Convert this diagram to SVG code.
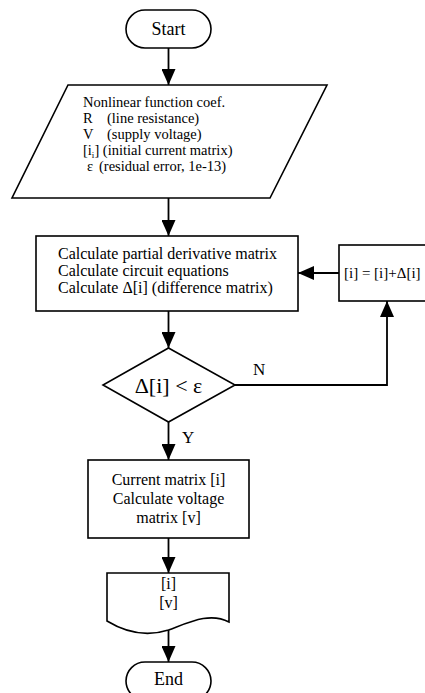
<svg xmlns="http://www.w3.org/2000/svg" width="425" height="693" viewBox="0 0 425 693">
<style>
.s{fill:#fff;stroke:#000;stroke-width:1.6}
.c{fill:none;stroke:#000;stroke-width:1.8}
text{font-family:"Liberation Serif","Times New Roman",serif;fill:#000}
.t{font-size:14.5px}
.u{font-size:16px}
.m{text-anchor:middle}
</style>
<defs>
<marker id="ah" viewBox="0 0 16 14" refX="16" refY="7" markerWidth="16" markerHeight="14" markerUnits="userSpaceOnUse" orient="auto">
<path d="M0,0 L16,7 L0,14 z" fill="#000"/>
</marker>
</defs>
<rect width="425" height="693" fill="#fff"/>
<g id="connectors">
<line class="c" x1="168.5" y1="48" x2="168.5" y2="85" marker-end="url(#ah)"/>
<line class="c" x1="168.5" y1="198" x2="168.5" y2="236" marker-end="url(#ah)"/>
<line class="c" x1="168.5" y1="311" x2="168.5" y2="348" marker-end="url(#ah)"/>
<polyline class="c" points="235,385 387,385 387,301" marker-end="url(#ah)"/>
<line class="c" x1="339" y1="273" x2="298" y2="273" marker-end="url(#ah)"/>
<line class="c" x1="168.5" y1="422" x2="168.5" y2="460" marker-end="url(#ah)"/>
<line class="c" x1="168.5" y1="538" x2="168.5" y2="573" marker-end="url(#ah)"/>
<line class="c" x1="168.5" y1="630" x2="168.5" y2="662" marker-end="url(#ah)"/>
<text x="253" y="375" style="font-size:17px">N</text>
<text x="182" y="443" style="font-size:17px">Y</text>
</g>
<g id="start">
<rect class="s" x="126" y="10" width="85" height="38" rx="19" ry="19"/>
<text class="m" x="168.5" y="35" style="font-size:18px">Start</text>
</g>
<g id="input">
<polygon class="s" points="68,85 327,85 270,198 12,198"/>
<text class="t" x="83" y="107">Nonlinear function coef.</text>
<text class="t" y="123"><tspan x="83">R</tspan><tspan x="107">(line resistance)</tspan></text>
<text class="t" y="139"><tspan x="83">V</tspan><tspan x="107">(supply voltage)</tspan></text>
<text class="t" x="83" y="155">[i<tspan style="font-size:9px" dy="3">i</tspan><tspan dy="-3">] (initial current matrix)</tspan></text>
<text class="t" y="171"><tspan x="87">ε</tspan><tspan x="99">(residual error, 1e-13)</tspan></text>
</g>
<g id="calc">
<rect class="s" x="36" y="236" width="262" height="75"/>
<text class="u" x="58" y="259">Calculate partial derivative matrix</text>
<text class="u" x="58" y="276">Calculate circuit equations</text>
<text class="u" x="58" y="293">Calculate Δ[i] (difference matrix)</text>
</g>
<g id="update">
<rect class="s" x="339" y="245" width="100" height="56"/>
<text x="344" y="278" style="font-size:15px">[i] = [i]+Δ[i]</text>
</g>
<g id="decision">
<polygon class="s" points="168.5,348 235,385 168.5,422 103,385"/>
<text class="m" x="168.5" y="393" style="font-size:22px">Δ[i] &lt; ε</text>
</g>
<g id="result">
<rect class="s" x="88" y="460" width="161" height="78"/>
<text class="u m" x="168.5" y="485">Current matrix [i]</text>
<text class="u m" x="168.5" y="504">Calculate voltage</text>
<text class="u m" x="168.5" y="523">matrix [v]</text>
</g>
<g id="output">
<path class="s" d="M107,573 L229,573 L229,622 C210,612 190,622 168.5,630 C150,636 130,635 107,621 Z"/>
<text class="u m" x="168.5" y="589">[i]</text>
<text class="u m" x="168.5" y="608">[v]</text>
</g>
<g id="end">
<rect class="s" x="126" y="662" width="85" height="38" rx="19" ry="19"/>
<text class="m" x="168.5" y="685" style="font-size:18px">End</text>
</g>
</svg>
